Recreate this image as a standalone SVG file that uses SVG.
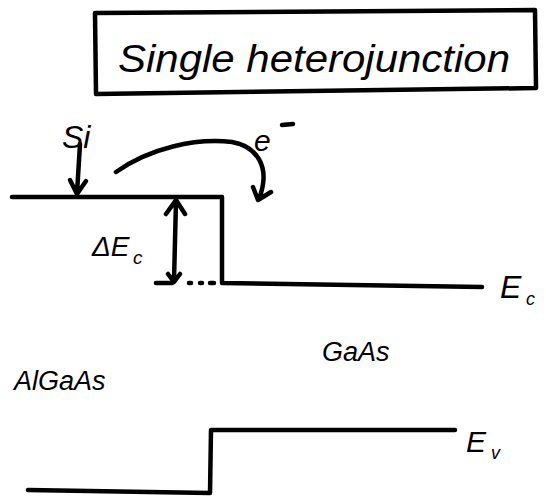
<svg xmlns="http://www.w3.org/2000/svg" width="546" height="500" viewBox="0 0 546 500">
<defs>
<style>
.ln{fill:none;stroke:#000;stroke-width:4.5;stroke-linecap:round;stroke-linejoin:round}
.t{font-family:"Liberation Sans","DejaVu Sans",sans-serif;fill:#000;font-style:italic}
</style>
</defs>
<rect width="546" height="500" fill="#fff"/>
<g id="title">
<path class="ln" d="M95,13 L535,10 L536,88 L96,94 Z" stroke-width="6"/>
<text class="t" x="118" y="72" font-size="38" textLength="392" lengthAdjust="spacingAndGlyphs">Single heterojunction</text>
</g>
<g id="conduction-band">
<path class="ln" d="M12,197 L222,197 L222,283 L482,287"/>
<text class="t" x="500" y="298" font-size="32">E</text>
<text class="t" x="526" y="305" font-size="18">c</text>
</g>
<g id="valence-band">
<path class="ln" d="M28,490 L210,493 L211,430 L455,430"/>
<text class="t" x="466" y="452" font-size="30">E</text>
<text class="t" x="491" y="459" font-size="18">v</text>
</g>
<g id="si-label">
<text class="t" x="62" y="148" font-size="32">Si</text>
</g>
<g id="electron-label">
<text class="t" x="254" y="151" font-size="30">e</text>
<path class="ln" d="M282,125 L293,124" stroke-width="3.5"/>
</g>
<g id="delta-ec-label">
<text class="t" x="92" y="256" font-size="28">ΔE</text>
<text class="t" x="133" y="264" font-size="19">c</text>
</g>
<g id="algaas-label">
<text class="t" x="14" y="390" font-size="27">AlGaAs</text>
</g>
<g id="gaas-label">
<text class="t" x="322" y="361" font-size="27">GaAs</text>
</g>
<g id="connectors">
<path class="ln" d="M80,144 L77,193 M70,180 L77,194 L86,181"/>
<path class="ln" d="M116,172 C150,148 195,138 232,142 C255,146 272,165 259,199 M253,187 L258,200 L271,192"/>
<path class="ln" d="M176,201 L174,281 M166,214 L176,200 L185,214 M168,274 L174,282 L180,274"/>
<path class="ln" d="M156,283 L172,283 M189,283 L191,283 M200,283 L202,283 M210,283 L214,283"/>
</g>
</svg>
